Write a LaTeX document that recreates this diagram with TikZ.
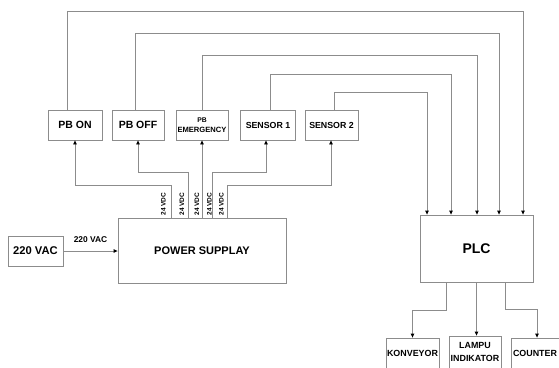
\documentclass[tikz,border=0pt]{standalone}
\usepackage{fontspec}
\setmainfont{Liberation Sans}
\usetikzlibrary{arrows.meta}
\definecolor{lg}{RGB}{140,140,140}
\begin{document}
\begin{tikzpicture}[x=1pt,y=-1pt,
  box/.style={draw=lg,line width=0.8pt,inner sep=1pt,align=center,font=\bfseries\fontsize{10.5}{12}\selectfont},
  wire/.style={draw=lg,line width=0.8pt},
  arr/.style={wire,-{Triangle[length=4pt,width=3.5pt,color=black]}},
  vdc/.style={rotate=90,font=\bfseries\fontsize{6.5}{7}\selectfont,inner sep=0pt}]
\useasboundingbox (0,0) rectangle (559,367);
% top row
\node[box,minimum width=54pt,minimum height=30pt] (pbon) at (75,125) {PB ON};
\node[box,minimum width=52pt,minimum height=30pt] (pboff) at (138,125) {PB OFF};
\node[box,minimum width=52pt,minimum height=30pt,font=\bfseries\fontsize{7.6}{10}\selectfont] (pbem) at (202,125) {{\fontsize{6.8}{8}\selectfont PB}\\EMERGENCY};
\node[box,minimum width=55pt,minimum height=30pt,font=\bfseries\fontsize{8.8}{10}\selectfont] (sen1) at (268,125) {SENSOR 1};
\node[box,minimum width=53pt,minimum height=30pt,font=\bfseries\fontsize{8.8}{10}\selectfont] (sen2) at (331.5,125) {SENSOR 2};
% power
\node[box,minimum width=55pt,minimum height=30pt,font=\bfseries\fontsize{11.2}{12}\selectfont] (vac) at (35.5,251) {220 VAC};
\node[box,minimum width=168pt,minimum height=65pt,font=\bfseries\fontsize{11}{12}\selectfont] (ps) at (202,250.5) {POWER SUPPLAY};
\node[font=\bfseries\fontsize{8.4}{9}\selectfont,inner sep=0pt] (lbl) at (90.5,240) {220 VAC};
% plc
\node[box,minimum width=113pt,minimum height=67pt,font=\bfseries\fontsize{14}{16}\selectfont] (plc) at (476.5,248.5) {PLC};
% outputs
\node[box,minimum width=51pt,minimum height=30pt,font=\bfseries\fontsize{8.9}{10}\selectfont] (konv) at (412.5,353) {KONVEYOR};
\node[box,minimum width=52pt,minimum height=32pt,font=\bfseries\fontsize{8.9}{13.5}\selectfont] (lampu) at (475,352) {LAMPU\\INDIKATOR};
\node[box,minimum width=48pt,minimum height=30pt,font=\bfseries\fontsize{8.9}{10}\selectfont] (counter) at (535,353) {COUNTER};
% 24 VDC labels
\node[vdc] (v1) at (163.5,204) {24 VDC};
\node[vdc] (v2) at (182,204) {24 VDC};
\node[vdc] (v3) at (197,204) {24 VDC};
\node[vdc] (v4) at (209.5,204) {24 VDC};
\node[vdc] (v5) at (221.5,204) {24 VDC};
% supply wires
\draw[arr] (vac.east) -- (vac.east -| ps.west);
\draw[arr] ([xshift=54pt]ps.north west) -- ++(0,-32) -| (pbon.south);
\draw[arr] ([xshift=71pt]ps.north west) -- ++(0,-45) -| (pboff.south);
\draw[arr] (ps.north) -- (pbem.south);
\draw[arr] ([xshift=95pt]ps.north west) -- ++(0,-45) -| ([xshift=-2pt]sen1.south);
\draw[arr] ([xshift=110pt]ps.north west) -- ++(0,-32) -| ([xshift=-0.5pt]sen2.south);
% input wires to PLC
\draw[arr] ([xshift=-8pt]pbon.north) -- ++(0,-98) -| ([xshift=46.5pt]plc.north);
\draw[arr] ([xshift=-3pt]pboff.north) -- ++(0,-76) -| ([xshift=22.5pt]plc.north);
\draw[arr] (pbem.north) -- ++(0,-54) -| ([xshift=0.5pt]plc.north);
\draw[arr] ([xshift=2pt]sen1.north) -- ++(0,-35) -| ([xshift=-25.5pt]plc.north);
\draw[arr] ([xshift=2.5pt]sen2.north) -- ++(0,-17) -| ([xshift=-49.5pt]plc.north);
% outputs
\draw[arr] ([xshift=-30.5pt]plc.south) -- ++(0,28) -| (konv.north);
\draw[arr] (plc.south) -- (plc.south |- lampu.north);
\draw[arr] ([xshift=28.5pt]plc.south) -- ++(0,27) -| ([xshift=2pt]counter.north);
\end{tikzpicture}
\end{document}
